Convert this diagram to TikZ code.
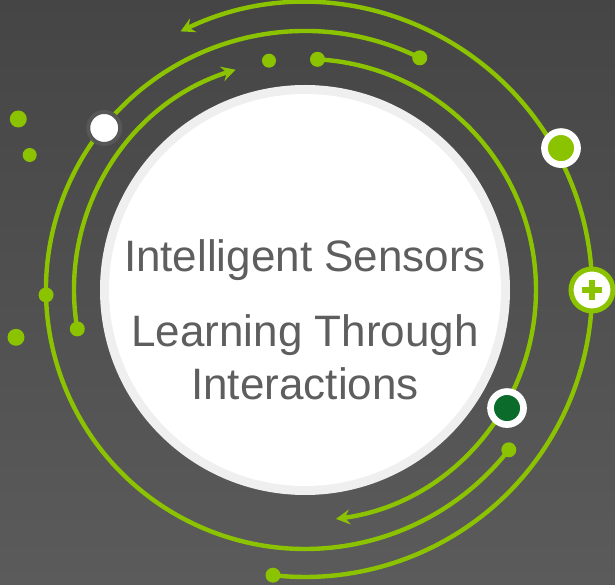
\documentclass[tikz,border=0pt]{standalone}
\usepackage{fontspec}
\setmainfont{Liberation Sans}
\usetikzlibrary{arrows.meta}
\definecolor{leaf}{HTML}{8CC300}
\definecolor{pine}{HTML}{0B6B2B}
\definecolor{slate}{HTML}{5E5E5E}
\definecolor{ash}{HTML}{575757}
\definecolor{rim}{HTML}{EFEFEF}
\definecolor{bgtop}{HTML}{454545}
\definecolor{bgbot}{HTML}{5B5B5B}
\tikzset{
	track/.style={draw=leaf, line width=4.4pt},
	barb/.tip={Stealth[length=14pt, width=15pt, inset=5pt]},
	dot/.style={circle, fill=leaf, inner sep=0pt, minimum size=15pt},
	marker/.style={circle, inner sep=0pt, minimum size=33pt, line width=6.7pt},
	caption/.style={text=slate, font=\fontsize{44pt}{52pt}\selectfont, anchor=base}
}
\begin{document}
\begin{tikzpicture}[x=1pt,y=1pt]
	\def \ra {287}
	\def \rb {259}
	\def \rc {231}
	\shade[top color=bgtop, bottom color=bgbot] (-305,-295) rectangle (310,290);
	\useasboundingbox (-305,-295) rectangle (310,290);

	% centre disc
	\fill[rim] (0,0) circle[radius=205pt];
	\fill[white] (0,0) circle[radius=196pt];

	% arc ends
	\coordinate (a0) at (115.7:\ra);
	\coordinate (a1) at (-96.4:\ra);
	\coordinate (b0) at (63.7:\rb);
	\coordinate (b1) at (-38.1:\rb);
	\coordinate (c0) at (189.7:\rc);
	\coordinate (d0) at (86.9:\rc);

	\draw[track, barb-] (a0) arc[start angle=115.7, end angle=-96.4, radius=\ra pt];
	\draw[track] (b0) arc[start angle=63.7, end angle=321.9, radius=\rb pt];
	\draw[track, -barb] (c0) arc[start angle=189.7, end angle=107.5, radius=\rc pt];
	\draw[track, -barb] (d0) arc[start angle=86.9, end angle=-82.3, radius=\rc pt];

	\node[dot] (enda) at (a1) {};
	\node[dot] (startb) at (b0) {};
	\node[dot] (endb) at (b1) {};
	\node[dot] (midb) at (181.1:\rb) {};
	\node[dot] (startc) at (c0) {};
	\node[dot] (startd) at (d0) {};

	% loose dots
	\foreach \x/\y/\s [count=\n] in {-286.7/171/17, -275.3/135/14, -289/-47.3/17, -36/229.3/14}{
		\node[dot, minimum size=\s pt] (spark\n) at (\x,\y) {};
	}

	% markers
	\node[marker, fill=white, draw=ash, line width=4pt, minimum size=32pt] (hub) at (141.1:258) {};
	\node[marker, fill=leaf, draw=white] (sensor) at (29:292.7) {};
	\node[marker, fill=pine, draw=white] (core) at (-30.3:234) {};
	\node[marker, fill=white, draw=leaf, line width=5pt, minimum size=42pt] (plus) at (287,0) {};
	\draw[leaf, line width=6pt] (plus.center) ++(-10,0) -- ++(20,0)
		(plus.center) ++(0,-10) -- ++(0,20);

	% text
	\node[caption] (title) at (0,18) {Intelligent Sensors};
	\node[caption] (lineone) at (0,-57) {Learning Through};
	\node[caption] (linetwo) at (0,-110) {Interactions};
\end{tikzpicture}
\end{document}
